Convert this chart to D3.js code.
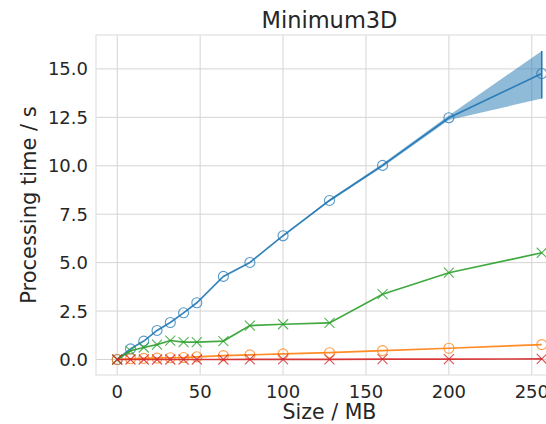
<!DOCTYPE html>
<html>
<head>
<meta charset="utf-8">
<script src="https://cdn.jsdelivr.net/npm/d3@7"></script>
<style>
  body { margin: 0; background: #fff; }
  svg { display: block; font-family: "DejaVu Sans", sans-serif; }
</style>
</head>
<body>
<div id="chart"></div>
<script>
// data
var sizes = [0, 8, 16, 24, 32, 40, 48, 64, 80, 100, 128, 160, 200, 256];
var blueVals = [0, 0.55, 0.95, 1.5, 1.91, 2.41, 2.93, 4.29, 5.01, 6.39, 8.21, 10.02, 12.48, 14.76];
var blueLow = [0, 0.55, 0.95, 1.5, 1.91, 2.41, 2.93, 4.29, 5.01, 6.39, 8.15, 9.94, 12.36, 13.47];
var blueHigh = [0, 0.55, 0.95, 1.5, 1.91, 2.41, 2.93, 4.29, 5.01, 6.39, 8.27, 10.1, 12.6, 15.92];
var orangeVals = [0, 0.04, 0.06, 0.07, 0.09, 0.1, 0.14, 0.2, 0.24, 0.29, 0.35, 0.46, 0.58, 0.77];
var greenVals = [0, 0.45, 0.62, 0.77, 0.98, 0.9, 0.9, 0.95, 1.75, 1.82, 1.89, 3.37, 4.48, 5.51];
var redVals = [0, 0, 0, 0, 0, 0, 0, 0, 0.01, 0.01, 0.01, 0.02, 0.02, 0.03];
var xTicks = [0, 50, 100, 150, 200, 250];
var yTicks = [0, 2.5, 5, 7.5, 10, 12.5, 15];

var width = 546, height = 424;
var plotLeft = 96, plotTop = 35, plotW = 467, plotH = 340;

var svg = d3.select("#chart").append("svg")
    .attr("width", width)
    .attr("height", height);

var x = d3.scaleLinear().domain([-12.8, 268.8]).range([plotLeft, plotLeft + plotW]);
var y = d3.scaleLinear().domain([-0.8, 16.75]).range([plotTop + plotH, plotTop]);

var textColor = "#262626";
var gridColor = "#d4d4d4";

// grid
svg.append("g").selectAll("line").data(xTicks).enter().append("line")
    .attr("x1", d => x(d)).attr("x2", d => x(d))
    .attr("y1", plotTop).attr("y2", plotTop + plotH)
    .attr("stroke", gridColor).attr("stroke-width", 1);
svg.append("g").selectAll("line").data(yTicks).enter().append("line")
    .attr("x1", plotLeft).attr("x2", plotLeft + plotW)
    .attr("y1", d => y(d)).attr("y2", d => y(d))
    .attr("stroke", gridColor).attr("stroke-width", 1);

// frame
svg.append("rect")
    .attr("x", plotLeft).attr("y", plotTop)
    .attr("width", plotW).attr("height", plotH)
    .attr("fill", "none").attr("stroke", "#e0e0e0").attr("stroke-width", 1.2);

// tick labels
svg.append("g").selectAll("text").data(xTicks).enter().append("text")
    .attr("x", d => x(d)).attr("y", plotTop + plotH + 23)
    .attr("text-anchor", "middle")
    .attr("font-size", 18).attr("fill", textColor)
    .text(d => d);
svg.append("g").selectAll("text").data(yTicks).enter().append("text")
    .attr("x", plotLeft - 8).attr("y", d => y(d) + 6.5)
    .attr("text-anchor", "end")
    .attr("font-size", 18).attr("fill", textColor)
    .text(d => d3.format(".1f")(d));

// labels
svg.append("text")
    .attr("x", x(128)).attr("y", 28)
    .attr("text-anchor", "middle")
    .attr("font-size", 22.5).attr("fill", textColor)
    .text("Minimum3D");
svg.append("text")
    .attr("x", x(128)).attr("y", 419)
    .attr("text-anchor", "middle")
    .attr("font-size", 20.5).attr("fill", textColor)
    .text("Size / MB");
svg.append("text")
    .attr("transform", "translate(36," + (plotTop + plotH / 2) + ") rotate(-90)")
    .attr("text-anchor", "middle")
    .attr("font-size", 21).attr("fill", textColor)
    .text("Processing time / s");

var plot = svg.append("g");

// confidence band of the blue series
var bandData = sizes.map((s, i) => ({ s: s, lo: blueLow[i], hi: blueHigh[i] }));
plot.append("path")
    .datum(bandData)
    .attr("d", d3.area().x(d => x(d.s)).y0(d => y(d.lo)).y1(d => y(d.hi)))
    .attr("fill", "#1f77b4").attr("fill-opacity", 0.5);
var lastBand = bandData[bandData.length - 1];
plot.append("line")
    .attr("x1", x(lastBand.s)).attr("x2", x(lastBand.s))
    .attr("y1", y(lastBand.lo)).attr("y2", y(lastBand.hi))
    .attr("stroke", "#1f77b4").attr("stroke-width", 1.5);

var series = [
    { vals: blueVals, color: "#1f77b4", marker: "o" },
    { vals: orangeVals, color: "#ff7f0e", marker: "o" },
    { vals: greenVals, color: "#2ca02c", marker: "x" },
    { vals: redVals, color: "#d62728", marker: "x" }
];

var line = d3.line().x(d => x(d[0])).y(d => y(d[1]));

series.forEach(sr => {
    var pts = sizes.map((s, i) => [s, sr.vals[i]]);
    plot.append("path")
        .datum(pts)
        .attr("d", line)
        .attr("fill", "none")
        .attr("stroke", sr.color)
        .attr("stroke-opacity", 0.9)
        .attr("stroke-width", 1.7);
    if (sr.marker === "o") {
        plot.append("g").selectAll("circle").data(pts).enter().append("circle")
            .attr("cx", d => x(d[0])).attr("cy", d => y(d[1]))
            .attr("r", 5)
            .attr("fill", "none")
            .attr("stroke", sr.color).attr("stroke-opacity", 0.75)
            .attr("stroke-width", 1.1);
    } else {
        var m = plot.append("g").selectAll("g").data(pts).enter().append("g")
            .attr("transform", d => "translate(" + x(d[0]) + "," + y(d[1]) + ")")
            .attr("stroke", sr.color).attr("stroke-opacity", 0.8)
            .attr("stroke-width", 1.1);
        m.append("line").attr("x1", -5).attr("y1", -5).attr("x2", 5).attr("y2", 5);
        m.append("line").attr("x1", -5).attr("y1", 5).attr("x2", 5).attr("y2", -5);
    }
});
</script>
</body>
</html>
